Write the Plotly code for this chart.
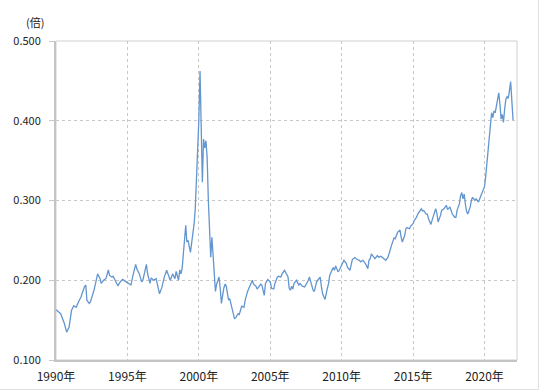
import plotly.graph_objects as go

dates = [
    "1990-01","1990-03","1990-05","1990-08","1990-10","1990-12",
    "1991-02","1991-04","1991-06","1991-08","1991-10",
    "1992-01","1992-02","1992-03","1992-05","1992-06","1992-09","1992-12",
    "1993-02","1993-03","1993-05","1993-07","1993-09","1993-10","1993-12",
    "1994-01","1994-03","1994-05","1994-07","1994-09",
    "1995-01","1995-03","1995-04","1995-06","1995-08","1995-09","1995-11",
    "1996-01","1996-02","1996-05","1996-06","1996-08","1996-09","1996-11",
    "1997-01","1997-02","1997-04","1997-06","1997-08","1997-10","1997-12",
    "1998-01","1998-03","1998-05","1998-06","1998-08","1998-09","1998-10","1998-11",
    "1999-01","1999-02","1999-03","1999-04","1999-06","1999-07","1999-08","1999-09","1999-10","1999-11","1999-12",
    "2000-01","2000-02","2000-03","2000-04","2000-05","2000-06","2000-07","2000-08","2000-09","2000-10","2000-11","2000-12",
    "2001-01","2001-02","2001-03","2001-04","2001-06","2001-07","2001-08","2001-10","2001-11","2001-12",
    "2002-02","2002-03","2002-05","2002-07","2002-08","2002-10","2002-11",
    "2003-01","2003-03","2003-04","2003-06","2003-08","2003-10","2003-11",
    "2004-01","2004-02","2004-04","2004-05","2004-06","2004-08","2004-09","2004-11",
    "2005-01","2005-02","2005-04","2005-05","2005-07","2005-08","2005-10","2005-11",
    "2006-01","2006-02","2006-04","2006-05","2006-06","2006-07","2006-08","2006-09","2006-11","2006-12",
    "2007-01","2007-02","2007-04","2007-06","2007-07","2007-09","2007-10","2007-11",
    "2008-01","2008-02","2008-04","2008-05","2008-06","2008-07","2008-08","2008-09","2008-11","2008-12",
    "2009-01","2009-02","2009-03","2009-05","2009-06","2009-07","2009-08","2009-10","2009-11",
    "2010-01","2010-02","2010-03","2010-05","2010-06","2010-08","2010-09","2010-10","2010-12",
    "2011-01","2011-02","2011-04","2011-05","2011-07","2011-09","2011-11","2011-12",
    "2012-01","2012-02","2012-04","2012-05","2012-07","2012-08","2012-10","2012-11","2012-12",
    "2013-02","2013-04","2013-05","2013-07","2013-09","2013-10","2013-12",
    "2014-02","2014-03","2014-04","2014-06","2014-07","2014-08","2014-10","2014-11",
    "2015-01","2015-02","2015-04","2015-05","2015-06","2015-08","2015-09","2015-10","2015-12",
    "2016-01","2016-02","2016-04","2016-05","2016-06","2016-08","2016-09","2016-10","2016-12",
    "2017-01","2017-03","2017-05","2017-06","2017-08","2017-09","2017-10","2017-12",
    "2018-01","2018-02","2018-03","2018-04","2018-05","2018-06","2018-07","2018-08","2018-09","2018-10","2018-11",
    "2019-01","2019-02","2019-03","2019-04","2019-05","2019-06","2019-07","2019-08","2019-10","2019-11",
    "2020-01","2020-02","2020-03","2020-04","2020-05","2020-06","2020-07","2020-08","2020-09","2020-10","2020-11",
    "2021-01","2021-02","2021-03","2021-04","2021-05","2021-06","2021-07","2021-08","2021-09","2021-10","2021-11","2021-12",
    "2022-01",
]

values = [
    0.163,0.160,0.158,0.146,0.135,0.141,
    0.162,0.168,0.166,0.173,0.179,
    0.192,0.194,0.175,0.171,0.173,0.188,0.208,
    0.202,0.196,0.200,0.202,0.213,0.206,0.204,
    0.205,0.200,0.193,0.198,0.201,
    0.197,0.195,0.194,0.208,0.220,0.214,0.208,
    0.198,0.200,0.220,0.208,0.196,0.203,0.200,
    0.202,0.196,0.183,0.191,0.204,0.2125,0.204,
    0.200,0.208,0.202,0.211,0.200,0.213,0.208,0.215,
    0.246,0.269,0.248,0.250,0.235,0.245,0.256,0.270,0.288,0.321,0.358,
    0.400,0.4625,0.390,0.323,0.377,0.366,0.375,0.354,0.300,0.250,0.229,0.254,
    0.225,0.200,0.186,0.195,0.204,0.190,0.171,0.190,0.195,0.193,
    0.175,0.177,0.1625,0.152,0.153,0.158,0.157,
    0.1675,0.166,0.175,0.186,0.1925,0.200,0.195,
    0.1925,0.189,0.1925,0.195,0.194,0.181,0.196,0.201,
    0.198,0.190,0.189,0.196,0.204,0.205,0.204,0.208,
    0.2125,0.209,0.204,0.190,0.1875,0.1925,0.189,0.196,0.200,0.197,
    0.194,0.196,0.1925,0.1915,0.194,0.200,0.204,0.198,
    0.1875,0.186,0.198,0.200,0.202,0.204,0.192,0.183,0.176,0.186,
    0.190,0.196,0.206,0.213,0.216,0.2125,0.218,0.2105,0.2125,
    0.219,0.223,0.225,0.221,0.216,0.2125,0.221,0.226,0.2285,
    0.227,0.226,0.225,0.223,0.225,0.221,0.2146,0.225,
    0.227,0.233,0.229,0.227,0.231,0.229,0.230,0.229,0.227,
    0.225,0.229,0.235,0.244,0.253,0.252,0.260,
    0.263,0.254,0.248,0.256,0.2646,0.266,0.2646,0.268,
    0.271,0.275,0.279,0.283,0.2854,0.2896,0.287,0.2875,0.283,
    0.283,0.277,0.270,0.275,0.281,0.2896,0.284,0.273,0.281,
    0.2875,0.2896,0.294,0.2885,0.292,0.2875,0.283,0.279,
    0.279,0.288,0.292,0.296,0.306,0.310,0.302,0.308,0.295,0.286,0.283,
    0.292,0.300,0.304,0.302,0.300,0.302,0.300,0.298,0.306,0.310,
    0.317,0.330,0.346,0.367,0.383,0.398,0.410,0.404,0.4125,0.410,0.418,
    0.435,0.420,0.402,0.408,0.398,0.415,0.427,0.430,0.428,0.438,0.449,0.425,
    0.401,
]

tick_dates = ["1990-01-01","1995-01-01","2000-01-01","2005-01-01","2010-01-01","2015-01-01","2020-01-01"]
tick_labels = ["1990年","1995年","2000年","2005年","2010年","2015年","2020年"]
y_unit = "(倍)"

FONT = "Noto Sans CJK JP"
W, H = 540, 391
L_ABS, R_ABS, T_ABS, B_ABS = 56, 517, 41, 360   # plot area in pixels
pw, ph = R_ABS - L_ABS, B_ABS - T_ABS

def px(x):
    return (x - L_ABS) / pw

def py(y):
    return (B_ABS - y) / ph

fig = go.Figure()
fig.add_trace(go.Scatter(
    x=dates, y=values, mode="lines",
    line=dict(color="#6395cf", width=1.3),
    hoverinfo="skip", showlegend=False,
))

fig.update_layout(
    width=W, height=H,
    margin=dict(l=L_ABS, r=W - R_ABS, t=T_ABS, b=H - B_ABS, pad=0),
    paper_bgcolor="white", plot_bgcolor="white",
    font=dict(family=FONT, size=12, color="#222"),
    xaxis=dict(
        type="date", automargin=False,
        range=["1990-01-01", "2022-04-12"],
        tickvals=tick_dates, ticktext=tick_labels,
        showgrid=True, gridcolor="#c8c8c8", griddash="dot", gridwidth=1,
        showline=True, linecolor="#c4c4c4", linewidth=2,
        ticks="", zeroline=False, ticklabelstandoff=5,
        tickfont=dict(family=FONT, size=12, color="#222"),
    ),
    yaxis=dict(
        automargin=False,
        range=[0.1, 0.5], dtick=0.1, tick0=0.1, tickformat=".3f",
        showgrid=True, gridcolor="#c8c8c8", griddash="dot", gridwidth=1,
        showline=True, linecolor="#c4c4c4", linewidth=2,
        ticks="outside", ticklen=5, tickcolor="#c8c8c8",
        zeroline=False, ticklabelstandoff=6,
        tickfont=dict(family=FONT, size=11, color="#222"),
    ),
    shapes=[
        dict(type="rect", xref="paper", yref="paper", x0=0, x1=1, y0=0, y1=1,
             line=dict(color="#d0d0d0", width=1), layer="below"),
        dict(type="line", xref="paper", yref="paper",
             x0=px(0), x1=px(538.5), y0=py(389.5), y1=py(389.5),
             line=dict(color="#e0e0e0", width=1)),
        dict(type="line", xref="paper", yref="paper",
             x0=px(538.5), x1=px(538.5), y0=py(389.5), y1=py(0),
             line=dict(color="#e0e0e0", width=1)),
    ],
    annotations=[
        dict(text=y_unit, xref="paper", yref="paper", x=px(46), y=py(22.5),
             xanchor="right", yanchor="middle", showarrow=False,
             font=dict(family=FONT, size=11, color="#222")),
    ],
)

fig.write_html(
    "out.html",
    config={"displayModeBar": False, "staticPlot": True},
    post_script="document.documentElement.style.margin='0';document.body.style.margin='0';document.body.style.overflow='hidden';",
)
